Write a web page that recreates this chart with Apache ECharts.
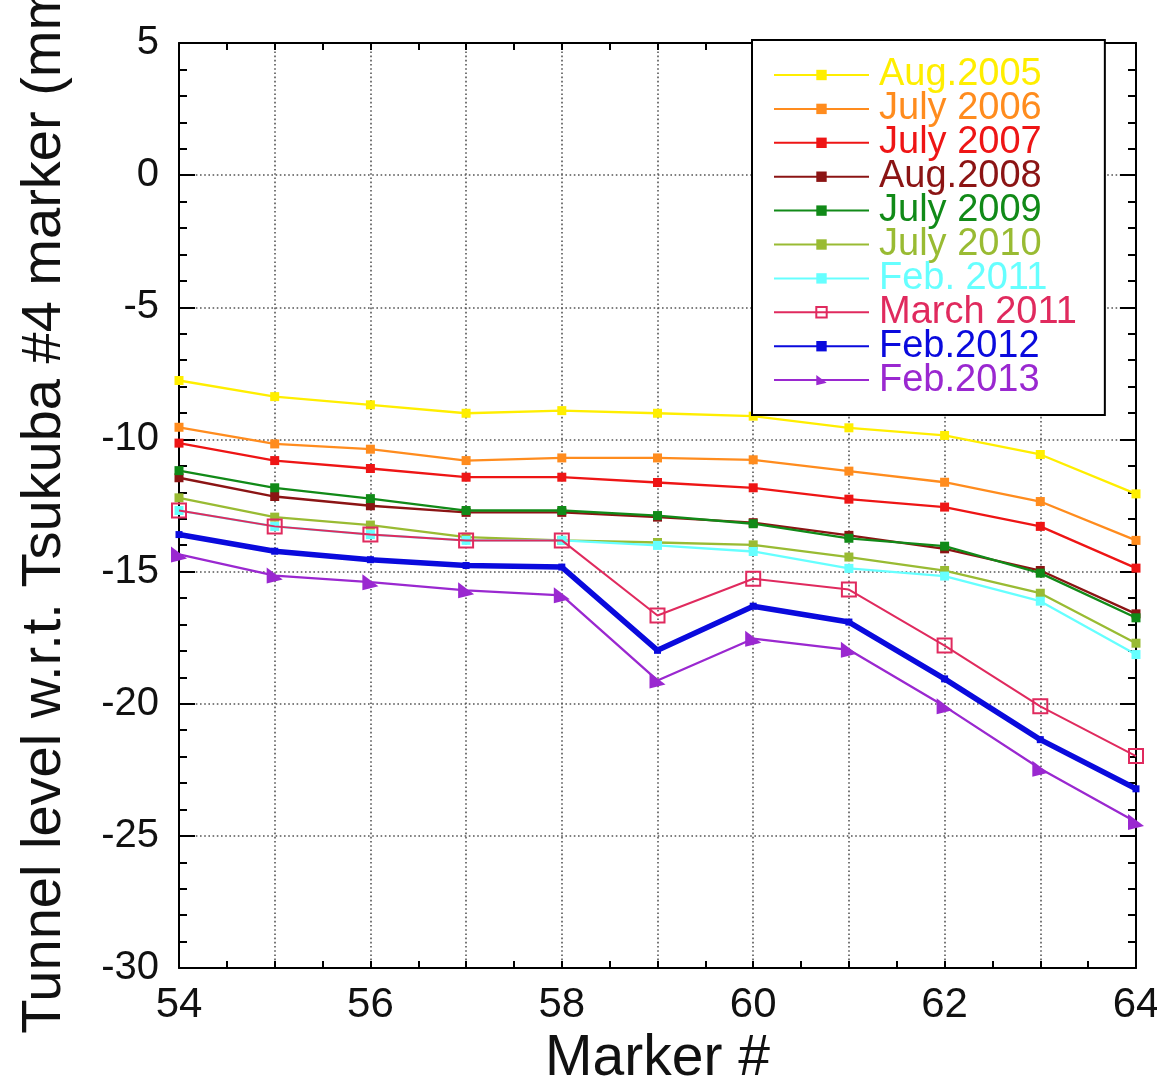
<!DOCTYPE html>
<html>
<head>
<meta charset="utf-8">
<script src="https://cdn.jsdelivr.net/npm/echarts@6/dist/echarts.min.js"></script>
<style>
html,body{margin:0;padding:0;background:#fff;}
#chart{width:1157px;height:1087px;}
</style>
</head>
<body>
<div id="chart"></div>
<script>
const markers = [54, 55, 56, 57, 58, 59, 60, 61, 62, 63, 64];
const seriesNames = ['Aug.2005', 'July 2006', 'July 2007', 'Aug.2008', 'July 2009', 'July 2010', 'Feb. 2011', 'March 2011', 'Feb.2012', 'Feb.2013'];
const aug2005 = [-7.77, -8.38, -8.69, -9.01, -8.91, -9.01, -9.12, -9.56, -9.85, -10.57, -12.06];
const jul2006 = [-9.54, -10.17, -10.37, -10.8, -10.7, -10.7, -10.77, -11.2, -11.62, -12.35, -13.82];
const jul2007 = [-10.14, -10.8, -11.1, -11.43, -11.43, -11.63, -11.83, -12.26, -12.56, -13.29, -14.87];
const aug2008 = [-11.45, -12.16, -12.51, -12.76, -12.76, -12.94, -13.15, -13.63, -14.14, -14.96, -16.6];
const jul2009 = [-11.18, -11.83, -12.24, -12.69, -12.69, -12.88, -13.19, -13.74, -14.04, -15.06, -16.75];
const jul2010 = [-12.21, -12.94, -13.24, -13.7, -13.82, -13.9, -13.99, -14.45, -14.96, -15.82, -17.71];
const feb2011 = [-12.69, -13.29, -13.6, -13.82, -13.82, -14.01, -14.24, -14.88, -15.17, -16.12, -18.14];
const mar2011 = [-12.69, -13.29, -13.6, -13.82, -13.82, -16.66, -15.27, -15.68, -17.8, -20.1, -21.98];
const feb2012 = [-13.6, -14.23, -14.55, -14.77, -14.83, -17.98, -16.31, -16.91, -19.06, -21.36, -23.22];
const feb2013 = [-14.35, -15.15, -15.4, -15.71, -15.9, -19.12, -17.54, -17.96, -20.1, -22.46, -24.48];
const xTickLabels = [54, 56, 58, 60, 62, 64];
const yTickLabels = [5, 0, -5, -10, -15, -20, -25, -30];

const allValues = [aug2005, jul2006, jul2007, aug2008, jul2009, jul2010, feb2011, mar2011, feb2012, feb2013];
const colors = ['#FFEE00', '#FF8C1E', '#EE1515', '#8B1414', '#118A18', '#99BB33', '#66FFFF', '#E02A5E', '#0A0ADD', '#9A28D0'];
const FONT = "'Liberation Sans', Arial, Helvetica, sans-serif";
const flag = 'path://M0,0 L0,12 L13,9 Z';

function pairs(vals) { return markers.map((m, i) => [m, vals[i]]); }

const series = allValues.map((vals, i) => {
  const s = {
    name: seriesNames[i],
    type: 'line',
    xAxisIndex: 0,
    yAxisIndex: 0,
    data: pairs(vals),
    symbol: 'rect',
    symbolSize: 9,
    lineStyle: { color: colors[i], width: 2.3 },
    itemStyle: { color: colors[i] },
    color: colors[i],
    emphasis: { disabled: true },
    animation: false,
    z: 3 + i
  };
  if (i === 7) {
    s.symbolSize = 14;
    s.itemStyle = { color: 'rgba(255,255,255,0)', borderColor: colors[i], borderWidth: 2 };
    s.lineStyle.width = 2;
  }
  if (i === 8) {
    s.lineStyle.width = 5.5;
    s.symbolSize = 7;
  }
  if (i === 9) {
    s.symbol = flag;
    s.symbolSize = 16;
  }
  return s;
});

const xCommon = {
  type: 'value', min: 54, max: 64, interval: 1,
  axisLine: { show: true, onZero: false, lineStyle: { color: '#000', width: 2 } },
  axisTick: { show: true, inside: true, length: 7, lineStyle: { color: '#000', width: 2 } },
  minorTick: { show: true, splitNumber: 2, length: 7, lineStyle: { color: '#000', width: 2 } }
};
const yCommon = {
  type: 'value', min: -30, max: 5, interval: 5,
  axisLine: { show: true, onZero: false, lineStyle: { color: '#000', width: 2 } },
  axisTick: { show: true, inside: true, length: 16, lineStyle: { color: '#000', width: 2 } },
  minorTick: { show: true, splitNumber: 5, length: 8, lineStyle: { color: '#000', width: 2 } }
};
const gridDots = { show: true, lineStyle: { color: '#555', width: 1.6, type: [1.6, 2.6] } };

const option = {
  backgroundColor: '#fff',
  animation: false,
  grid: { left: 179, right: 21, top: 43, bottom: 119, containLabel: false, outerBoundsMode: 'none' },
  xAxis: [
    Object.assign({}, xCommon, {
      position: 'bottom',
      name: 'Marker #', nameLocation: 'middle', nameGap: 62,
      nameTextStyle: { fontFamily: FONT, fontSize: 57, color: '#111' },
      axisLabel: {
        show: true, margin: 16, fontFamily: FONT, fontSize: 42, color: '#111',
        formatter: v => (xTickLabels.indexOf(v) >= 0 ? String(v) : '')
      },
      splitLine: gridDots
    }),
    Object.assign({}, xCommon, {
      position: 'top',
      axisLabel: { show: false },
      splitLine: { show: false }
    })
  ],
  yAxis: [
    Object.assign({}, yCommon, {
      position: 'left',
      name: 'Tunnel level w.r.t. Tsukuba #4 marker (mm)', nameLocation: 'middle', nameGap: 106,
      nameTextStyle: { fontFamily: FONT, fontSize: 56, color: '#111', padding: [0, 0, 0, 12] },
      axisLabel: {
        show: true, margin: 20, fontFamily: FONT, fontSize: 40, color: '#111',
        formatter: v => (yTickLabels.indexOf(v) >= 0 ? String(v) : '')
      },
      splitLine: gridDots
    }),
    Object.assign({}, yCommon, {
      position: 'right',
      axisLabel: { show: false },
      splitLine: { show: false }
    })
  ],
  legend: {
    show: true,
    orient: 'vertical',
    left: 752, top: 40,
    padding: [16, 28, 16, 21],
    itemWidth: 95, itemHeight: 13, itemGap: -4.1,
    backgroundColor: '#fff',
    borderColor: '#000', borderWidth: 2,
    z: 20,
    selectedMode: false,
    textStyle: { fontFamily: FONT, fontSize: 38, padding: [0, 0, 0, 5] },
    data: seriesNames.map((n, i) => ({ name: n, textStyle: { color: colors[i] } }))
  },
  series: series
};

const chart = echarts.init(document.getElementById('chart'), null, { renderer: 'canvas' });
chart.setOption(option);
</script>
</body>
</html>
